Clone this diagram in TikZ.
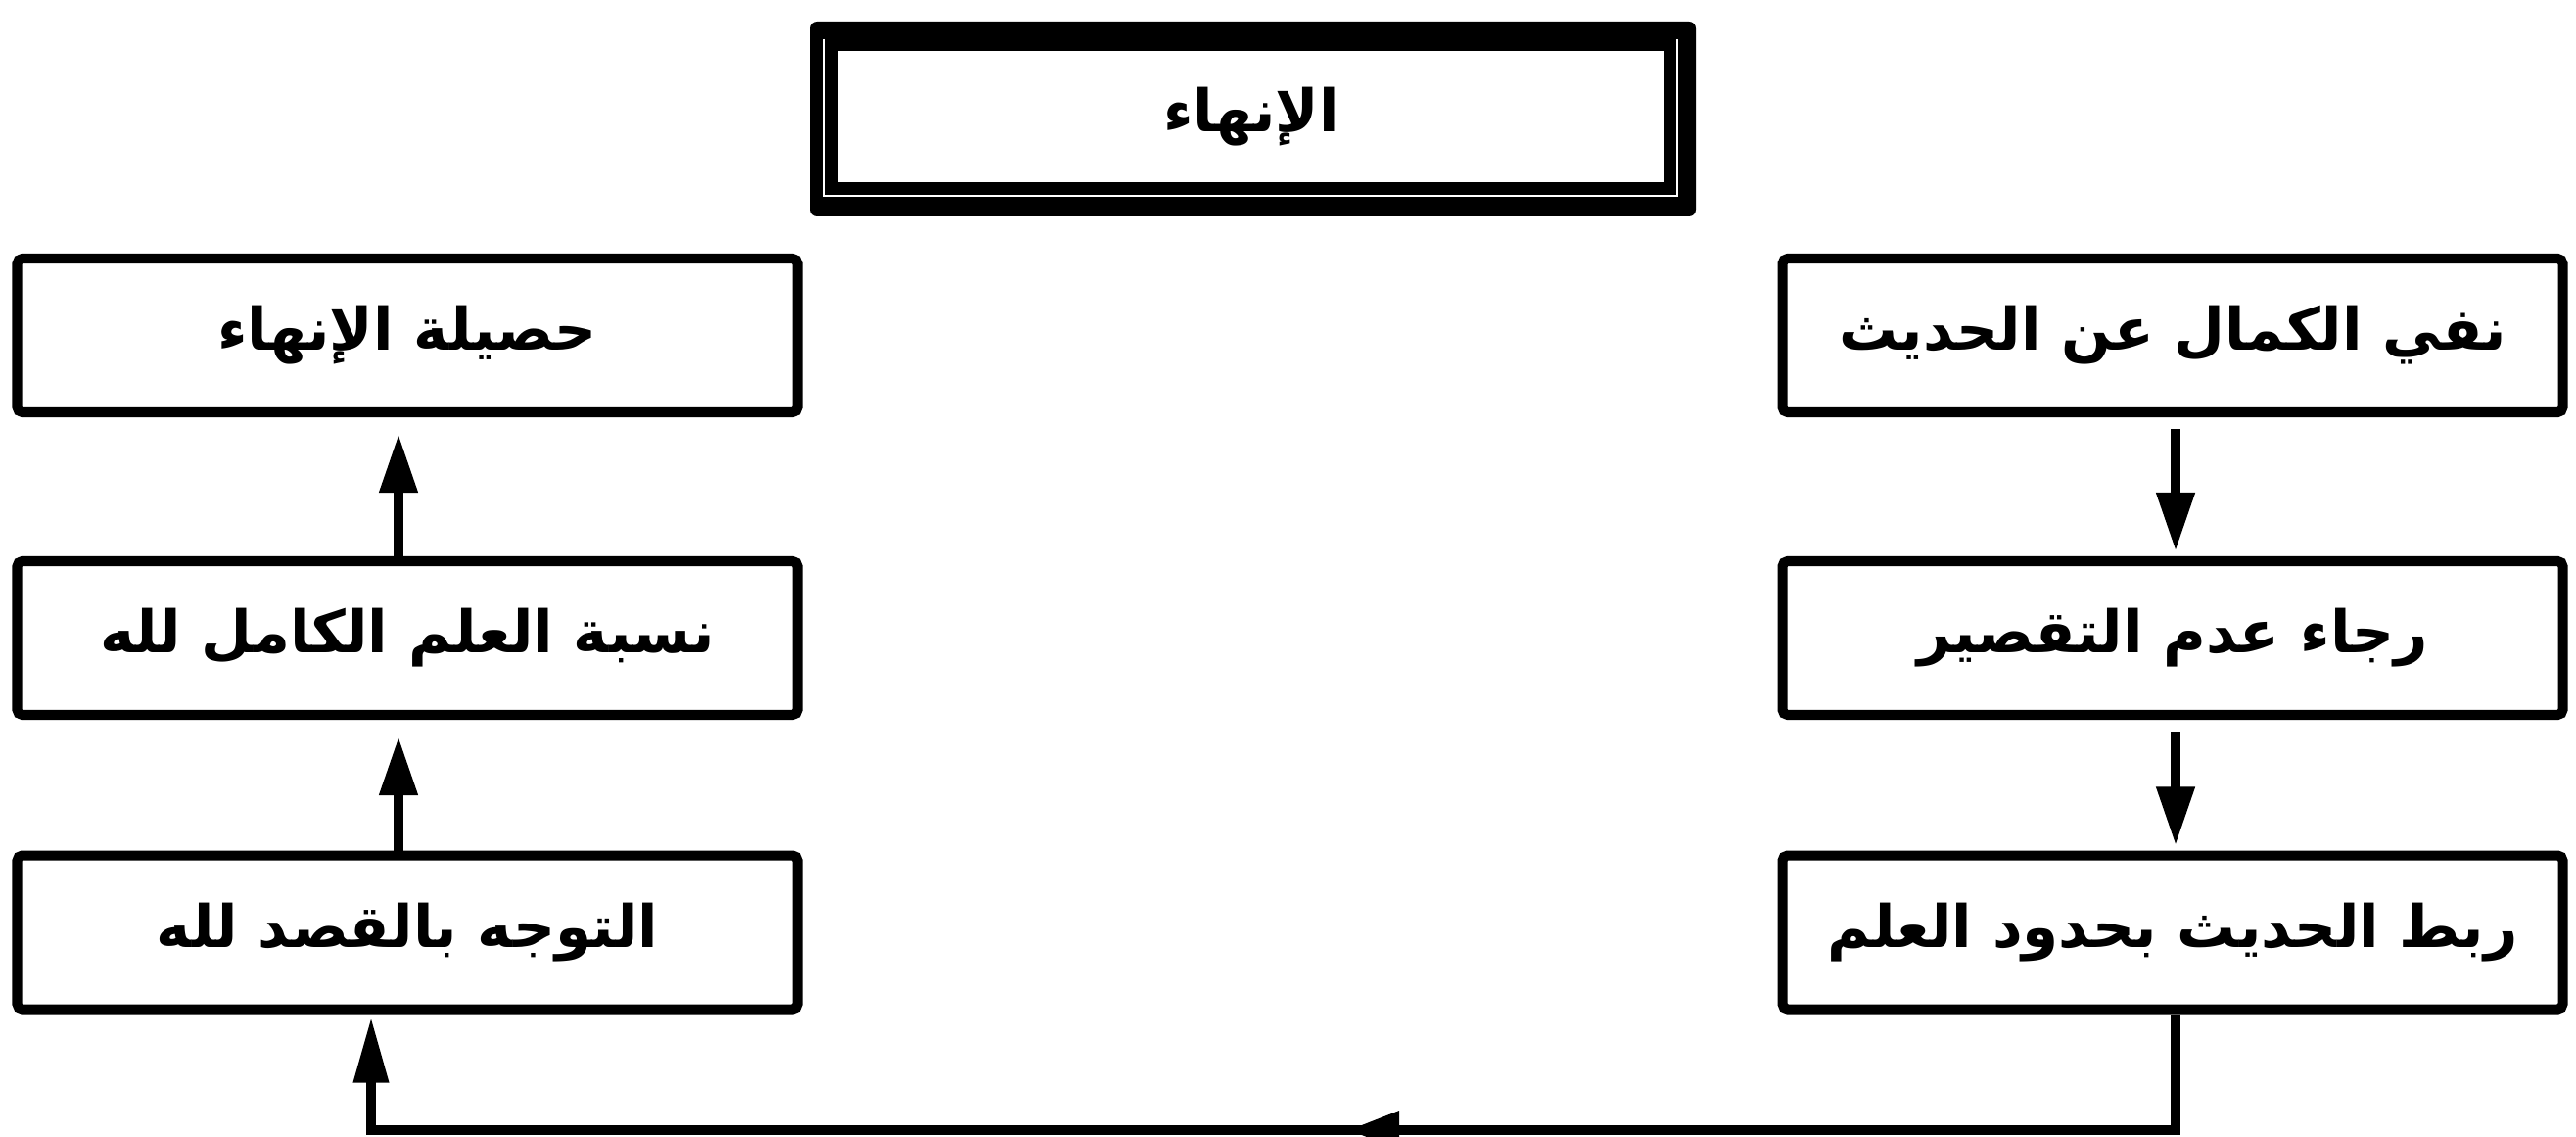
\documentclass[tikz,border=0pt]{standalone}
\usepackage{fontspec}
\TeXXeTstate=1
\newfontfamily\arabicfont[Script=Arabic]{DejaVu Sans}
\usetikzlibrary{arrows.meta}
\begin{document}
\begin{tikzpicture}[x=1cm,y=1cm,
  box/.style={draw=black, line width=2.85pt, fill=white, rounded corners=1.5pt,
    minimum width=7.97cm, minimum height=1.57cm, inner sep=0pt},
  lbl/.style={font=\arabicfont\bfseries\fontsize{17}{20}\selectfont},
  arr/.style={line width=3pt, -{Triangle[length=0.6cm,width=0.37cm]}},
  conn/.style={line width=2.8pt, -{Triangle[length=0.67cm,width=0.34cm]}}]
\useasboundingbox (0,0) rectangle (26.31,-11.61);
% top framed box
\fill[rounded corners=2pt] (8.27,-0.22) rectangle (17.32,-2.21);
\draw[white, line width=0.6pt] (8.42,-0.40) -- (8.42,-2.00) -- (17.13,-2.00) -- (17.13,-0.40);
\node[fill=white, minimum width=8.44cm, minimum height=1.34cm, inner sep=0pt, lbl] (top) at (12.78,-1.19) {\beginR الإنهاء\endR};
% left column
\node[box, lbl] (l1) at (4.16,-3.425) {\beginR حصيلة الإنهاء\endR};
\node[box, lbl] (l2) at (4.16,-6.515) {\beginR نسبة العلم الكامل لله\endR};
\node[box, lbl] (l3) at (4.16,-9.52) {\beginR التوجه بالقصد لله\endR};
% right column
\node[box, lbl] (r1) at (22.19,-3.425) {\beginR نفي الكمال عن الحديث\endR};
\node[box, lbl] (r2) at (22.19,-6.515) {\beginR رجاء عدم التقصير\endR};
\node[box, lbl] (r3) at (22.19,-9.52) {\beginR ربط الحديث بحدود العلم\endR};
% connectors
\coordinate (lx) at (4.07,0);
\coordinate (rx) at (22.22,0);
\coordinate (bl) at (3.79,-11.54);
\draw[arr, shorten >=0.17cm] (l2.north -| lx) -- (l1.south -| lx);
\draw[arr, shorten >=0.17cm] (l3.north -| lx) -- (l2.south -| lx);
\draw[arr, shorten <=0.12cm, shorten >=0.05cm] (r1.south -| rx) -- (r2.north -| rx);
\draw[arr, shorten <=0.12cm, shorten >=0.05cm] (r2.south -| rx) -- (r3.north -| rx);
\draw[conn, shorten >=0.03cm] (r3.south -| rx) |- (bl) -- (l3.south -| bl);
\fill (13.78,-11.54) -- (14.29,-11.34) -- (14.29,-11.74) -- cycle;
\end{tikzpicture}
\end{document}
